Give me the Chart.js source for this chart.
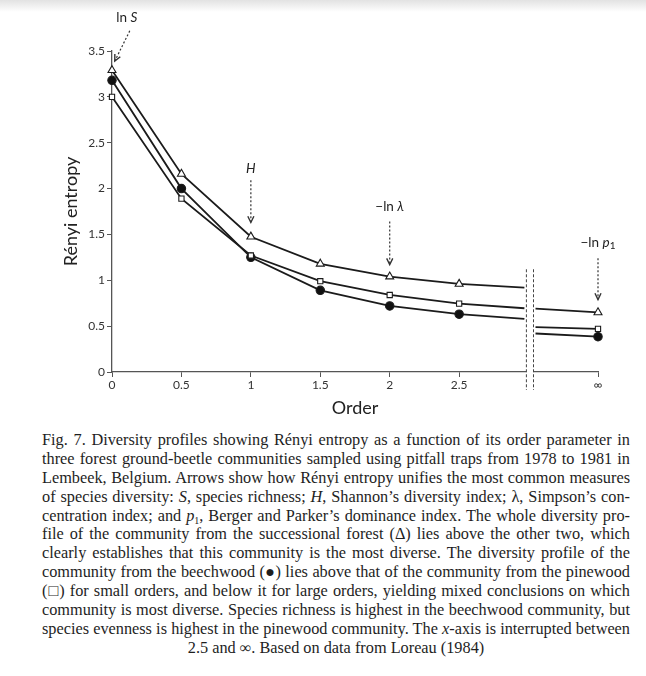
<!DOCTYPE html>
<html>
<head>
<meta charset="utf-8">
<script src="https://cdn.jsdelivr.net/npm/chart.js@4"></script>
<style>
  body { margin: 0; width: 646px; height: 676px; position: relative; overflow: hidden;
         background: linear-gradient(#e2e2e2 0px, #ffffff 12px) no-repeat, #ffffff; }
  #grafiek { position: absolute; left: 0; top: 0; }
  #bijschrift { position: absolute; left: 42px; top: 431px; width: 588px;
                font-family: 'Liberation Serif', 'DejaVu Serif', serif; font-size: 16.3px;
                line-height: 18.9px; color: #1e1e1e; }
  #bijschrift div { white-space: nowrap; text-align: justify; text-align-last: justify; height: 18.9px; }
  #bijschrift div.laatste { text-align: center; text-align-last: center; }
  .sub { font-size: 10px; line-height: 0; vertical-align: -3px; }
</style>
</head>
<body>
<canvas id="grafiek" width="646" height="420"></canvas>
<div id="bijschrift">
  <div>Fig. 7. Diversity profiles showing Rényi entropy as a function of its order parameter in</div>
  <div>three forest ground-beetle communities sampled using pitfall traps from 1978 to 1981 in</div>
  <div>Lembeek, Belgium. Arrows show how Rényi entropy unifies the most common measures</div>
  <div>of species diversity: <i>S</i>, species richness; <i>H</i>, Shannon’s diversity index; λ, Simpson’s con-</div>
  <div>centration index; and <i>p</i><span class="sub">1</span>, Berger and Parker’s dominance index. The whole diversity pro-</div>
  <div>file of the community from the successional forest (Δ) lies above the other two, which</div>
  <div>clearly establishes that this community is the most diverse. The diversity profile of the</div>
  <div>community from the beechwood (●) lies above that of the community from the pinewood</div>
  <div>(□) for small orders, and below it for large orders, yielding mixed conclusions on which</div>
  <div>community is most diverse. Species richness is highest in the beechwood community, but</div>
  <div>species evenness is highest in the pinewood community. The <i>x</i>-axis is interrupted between</div>
  <div class="laatste">2.5 and ∞. Based on data from Loreau (1984)</div>
</div>
<script>
// order parameter (x) and axis ticks
const orde = [0, 0.5, 1, 1.5, 2, 2.5];
const xTicks = [0, 0.5, 1, 1.5, 2, 2.5, 3.5];
const xTickLabels = ['0', '0.5', '1', '1.5', '2', '2.5', '∞'];
const yTicks = [0, 0.5, 1, 1.5, 2, 2.5, 3, 3.5];
const breukX = [2.97, 3.05]; // lines stop / start again around the axis break
const oneindigX = 3.5;       // where infinity sits on the axis

// successional forest (triangles)
const successie = [3.29, 2.16, 1.475, 1.18, 1.04, 0.96];
const successieBreuk = [0.92, 0.69];
const successieOneindig = 0.65;

// beechwood (filled circles)
const beukenbos = [3.18, 2.0, 1.25, 0.89, 0.72, 0.63];
const beukenbosBreuk = [0.58, 0.42];
const beukenbosOneindig = 0.385;

// pinewood (open squares)
const dennenbos = [3.0, 1.89, 1.27, 0.99, 0.84, 0.745];
const dennenbosBreuk = [0.695, 0.49];
const dennenbosOneindig = 0.47;

function maakPunten(waarden, breuk, oneindig) {
    const punten = orde.map((x, i) => ({ x: x, y: waarden[i] }));
    punten.push({ x: breukX[0], y: breuk[0] });
    punten.push({ x: (breukX[0] + breukX[1]) / 2, y: null }); // gap
    punten.push({ x: breukX[1], y: breuk[1] });
    punten.push({ x: oneindigX, y: oneindig });
    return punten;
}

const straal = [1, 1, 1, 1, 1, 1, 0, 0, 0, 1];

function dataset(label, punten, stijl, vulling, r) {
    return {
        label: label,
        data: punten,
        borderColor: '#1b1b1b',
        borderWidth: 1.8,
        pointStyle: stijl,
        pointBackgroundColor: vulling,
        pointBorderColor: '#1b1b1b',
        pointBorderWidth: 1.1,
        pointRadius: straal.map(s => s ? r : 0),
        tension: 0,
        spanGaps: false,
        clip: false
    };
}

// text with mixed fonts, centred on (cx, cy)
function tekstDelen(ctx, delen, cx, cy) {
    let breedte = 0;
    delen.forEach(d => { ctx.font = d.f; breedte += ctx.measureText(d.t).width; });
    let x = cx - breedte / 2;
    ctx.textBaseline = 'middle';
    ctx.textAlign = 'left';
    delen.forEach(d => {
        ctx.font = d.f;
        ctx.fillText(d.t, x, cy + (d.dy || 0));
        x += ctx.measureText(d.t).width;
    });
}

function pijl(ctx, x1, y1, x2, y2) {
    ctx.save();
    ctx.strokeStyle = '#333';
    ctx.lineWidth = 1.2;
    ctx.setLineDash([2, 2]);
    ctx.beginPath();
    ctx.moveTo(x1, y1);
    ctx.lineTo(x2, y2);
    ctx.stroke();
    ctx.setLineDash([]);
    const hoek = Math.atan2(y2 - y1, x2 - x1);
    ctx.lineWidth = 1.4;
    ctx.beginPath();
    ctx.moveTo(x2 - 7 * Math.cos(hoek - 0.45), y2 - 7 * Math.sin(hoek - 0.45));
    ctx.lineTo(x2, y2);
    ctx.lineTo(x2 - 7 * Math.cos(hoek + 0.45), y2 - 7 * Math.sin(hoek + 0.45));
    ctx.stroke();
    ctx.restore();
}

const f = '13.5px Lato';
const fi = 'italic 13.5px Lato';
const annotaties = [
    { tekst: [{ t: 'ln ', f: f }, { t: 'S', f: fi }], lx: 0.106, ly: 3.86, van: [0.128, 3.72], naar: [0.02, 3.39] },
    { tekst: [{ t: 'H', f: fi }], lx: 1, ly: 2.22, van: [1, 2.09], naar: [1, 1.63] },
    { tekst: [{ t: '−ln ', f: f }, { t: 'λ', f: fi }], lx: 2, ly: 1.8, van: [2, 1.64], naar: [2, 1.17] },
    { tekst: [{ t: '−ln ', f: f }, { t: 'p', f: fi }, { t: '1', f: '10px Lato', dy: 3 }], lx: 3.5, ly: 1.41, van: [3.5, 1.24], naar: [3.5, 0.79] }
];

const extraTekening = {
    id: 'extraTekening',
    afterDatasetsDraw(chart) {
        const ctx = chart.ctx;
        const xs = chart.scales.x;
        const ys = chart.scales.y;

        // interrupted x-axis
        const a = xs.getPixelForValue(breukX[0]) + 2;
        const b = xs.getPixelForValue(breukX[1]) - 2;
        const boven = ys.getPixelForValue(1.12);
        const onder = ys.bottom + 18;
        ctx.save();
        ctx.fillStyle = '#ffffff';
        ctx.fillRect(a, boven, b - a, onder - boven);
        ctx.strokeStyle = '#444';
        ctx.lineWidth = 1;
        ctx.setLineDash([3, 2]);
        [a, b].forEach(x => {
            ctx.beginPath();
            ctx.moveTo(x, boven);
            ctx.lineTo(x, onder);
            ctx.stroke();
        });
        ctx.restore();

        ctx.save();
        ctx.fillStyle = '#222';
        annotaties.forEach(an => {
            tekstDelen(ctx, an.tekst, xs.getPixelForValue(an.lx), ys.getPixelForValue(an.ly));
            pijl(ctx, xs.getPixelForValue(an.van[0]), ys.getPixelForValue(an.van[1]),
                 xs.getPixelForValue(an.naar[0]), ys.getPixelForValue(an.naar[1]));
        });
        ctx.restore();
    }
};

Chart.defaults.font.family = 'Lato';
Chart.defaults.color = '#333';

const ctx = document.getElementById('grafiek').getContext('2d');
new Chart(ctx, {
    type: 'line',
    data: {
        datasets: [
            dataset('Successional forest', maakPunten(successie, successieBreuk, successieOneindig), 'triangle', '#ffffff', 4.6),
            dataset('Pinewood', maakPunten(dennenbos, dennenbosBreuk, dennenbosOneindig), 'rect', '#ffffff', 3.7),
            dataset('Beechwood', maakPunten(beukenbos, beukenbosBreuk, beukenbosOneindig), 'circle', '#111111', 4.2)
        ]
    },
    options: {
        responsive: false,
        animation: false,
        layout: { padding: { top: 51, right: 48, left: 0, bottom: 0 } },
        plugins: { legend: { display: false }, tooltip: { enabled: false } },
        scales: {
            x: {
                type: 'linear',
                min: 0,
                max: oneindigX,
                afterBuildTicks: scale => { scale.ticks = xTicks.map(v => ({ value: v })); },
                afterFit: scale => { scale.height = 48; },
                ticks: {
                    callback: v => xTickLabels[xTicks.indexOf(v)],
                    font: { size: 12 },
                    padding: 1,
                    maxRotation: 0
                },
                grid: { drawOnChartArea: false, drawTicks: true, tickLength: 5, color: '#555' },
                border: { color: '#555', width: 1.3 },
                title: { display: true, text: 'Order', font: { size: 18 }, padding: { top: 0, bottom: 1 }, color: '#222' }
            },
            y: {
                min: 0,
                max: 3.5,
                afterBuildTicks: scale => { scale.ticks = yTicks.map(v => ({ value: v })); },
                afterFit: scale => { scale.width = 112; },
                ticks: { callback: v => String(v), font: { size: 12 }, padding: 2 },
                grid: { drawOnChartArea: false, drawTicks: true, tickLength: 5, color: '#555' },
                border: { color: '#555', width: 1.3 },
                title: { display: true, text: 'Rényi entropy', font: { size: 18 }, padding: { top: 60, bottom: 0 }, color: '#222' }
            }
        }
    },
    plugins: [extraTekening]
});
</script>
</body>
</html>
